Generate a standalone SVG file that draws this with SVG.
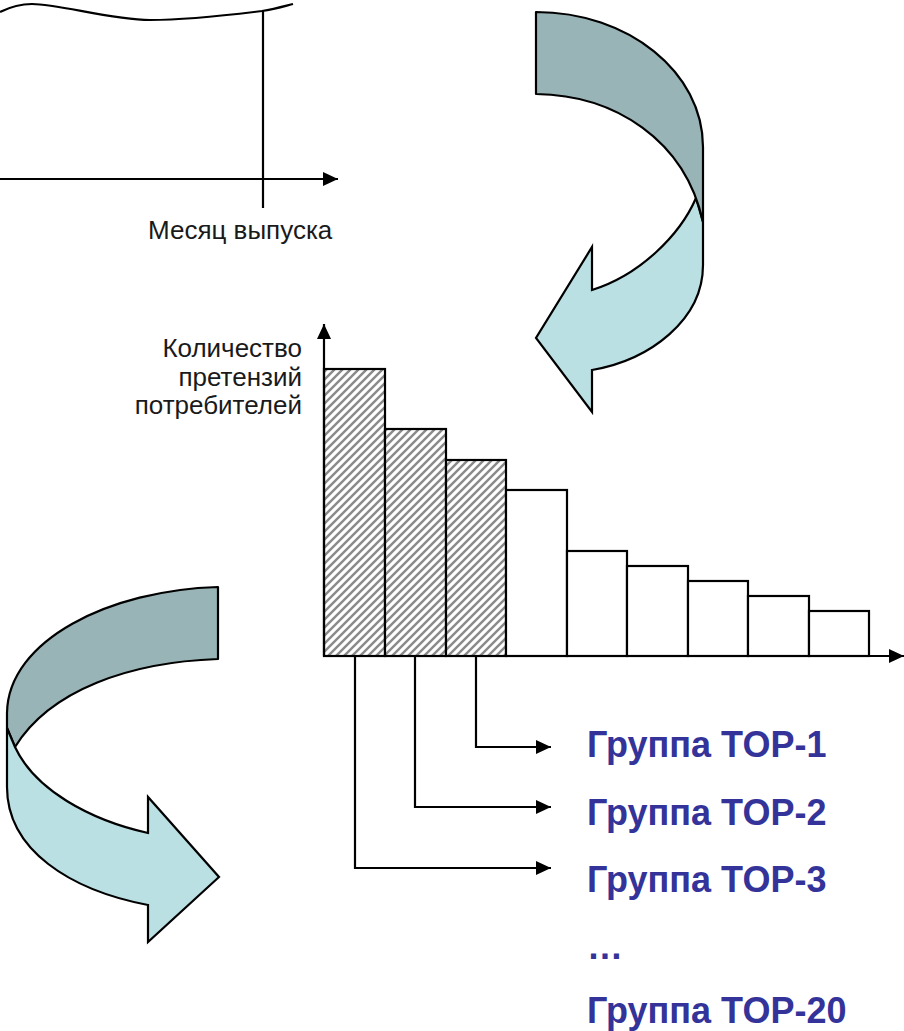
<svg xmlns="http://www.w3.org/2000/svg" width="904" height="1031" viewBox="0 0 904 1031">
<style>
.ln{fill:none;stroke:#000;stroke-width:2.2}
.bar{stroke:#000;stroke-width:2.2}
.lbl{font-family:"Liberation Sans",Arial,sans-serif;font-size:26px;fill:#1a1a1a}
.grp{font-family:"Liberation Sans",Arial,sans-serif;font-size:36px;font-weight:bold;fill:#333399}
.dark{fill:#98b4b6;stroke:#000;stroke-width:2.2;stroke-linejoin:round}
.light{fill:#bae0e3;stroke:#000;stroke-width:2.2;stroke-linejoin:miter}
</style>
<defs>
<marker id="ah" markerUnits="userSpaceOnUse" markerWidth="16" markerHeight="16" refX="15" refY="7" orient="auto">
<path d="M0,0 L15,7 L0,14 Z" fill="#000"/>
</marker>
<pattern id="hatch" patternUnits="userSpaceOnUse" width="8" height="8">
<rect width="8" height="8" fill="#fff"/>
<path d="M-2,2 L2,-2 M0,8 L8,0 M6,10 L10,6" stroke="#8a8a8a" stroke-width="2.4"/>
</pattern>
</defs>

<g id="release-chart">
<path class="ln" d="M0,12 C12,6 22,4 32,4 C60,4 110,20 150,20 C190,20 230,15 262,11 C275,9 285,6 293,4"/>
<line class="ln" x1="263" y1="11" x2="263" y2="208"/>
<line class="ln" x1="0" y1="179" x2="338" y2="179" marker-end="url(#ah)"/>
<text class="lbl" x="148" y="239">Месяц выпуска</text>
</g>

<g id="arrow-top-right">
<path class="light" d="M696,198 L703,222 L703,265 C703,320 650,360 592,370 L592,412 L536,338 L592,247 L592,290 C640,275 680,235 696,198 Z"/>
<path class="dark" d="M536,12 C628,12 703,72 703,147 L703,222 C685,140 615,95 536,94 Z"/>
</g>

<g id="pareto-chart">
<text class="lbl" text-anchor="end" x="302" y="357">Количество</text>
<text class="lbl" text-anchor="end" x="302" y="386">претензий</text>
<text class="lbl" text-anchor="end" x="302" y="414">потребителей</text>
<rect class="bar" fill="url(#hatch)" x="324" y="369" width="61" height="287"/>
<rect class="bar" fill="url(#hatch)" x="385" y="429" width="61" height="227"/>
<rect class="bar" fill="url(#hatch)" x="446" y="460" width="60" height="196"/>
<rect class="bar" fill="#fff" x="506" y="490" width="61" height="166"/>
<rect class="bar" fill="#fff" x="567" y="551" width="60" height="105"/>
<rect class="bar" fill="#fff" x="627" y="566" width="61" height="90"/>
<rect class="bar" fill="#fff" x="688" y="581" width="60" height="75"/>
<rect class="bar" fill="#fff" x="748" y="596" width="61" height="60"/>
<rect class="bar" fill="#fff" x="809" y="611" width="60" height="45"/>
<line class="ln" x1="324" y1="656" x2="324" y2="324" marker-end="url(#ah)"/>
<line class="ln" x1="324" y1="656" x2="904" y2="656" marker-end="url(#ah)"/>
</g>

<g id="arrow-bottom-left">
<path class="dark" d="M218,587 C110,590 8,640 7,713 L7,728 L15,747 C50,690 130,662 218,659 Z"/>
<path class="light" d="M7,728 L7,787 C7,850 70,890 148,905 L148,942 L219,877 L148,797 L148,833 C90,820 35,790 15,747 L7,728 Z"/>
</g>

<g id="connectors">
<polyline class="ln" points="476,656 476,747 551,747" marker-end="url(#ah)"/>
<polyline class="ln" points="415,656 415,807 551,807" marker-end="url(#ah)"/>
<polyline class="ln" points="355,656 355,868 551,868" marker-end="url(#ah)"/>
</g>

<g id="top-1"><text class="grp" x="587" y="757">Группа TOP-1</text></g>
<g id="top-2"><text class="grp" x="587" y="825">Группа TOP-2</text></g>
<g id="top-3"><text class="grp" x="587" y="892">Группа TOP-3</text></g>
<g id="ellipsis"><text class="grp" x="587" y="959">…</text></g>
<g id="top-20"><text class="grp" x="587" y="1023">Группа TOP-20</text></g>
</svg>
